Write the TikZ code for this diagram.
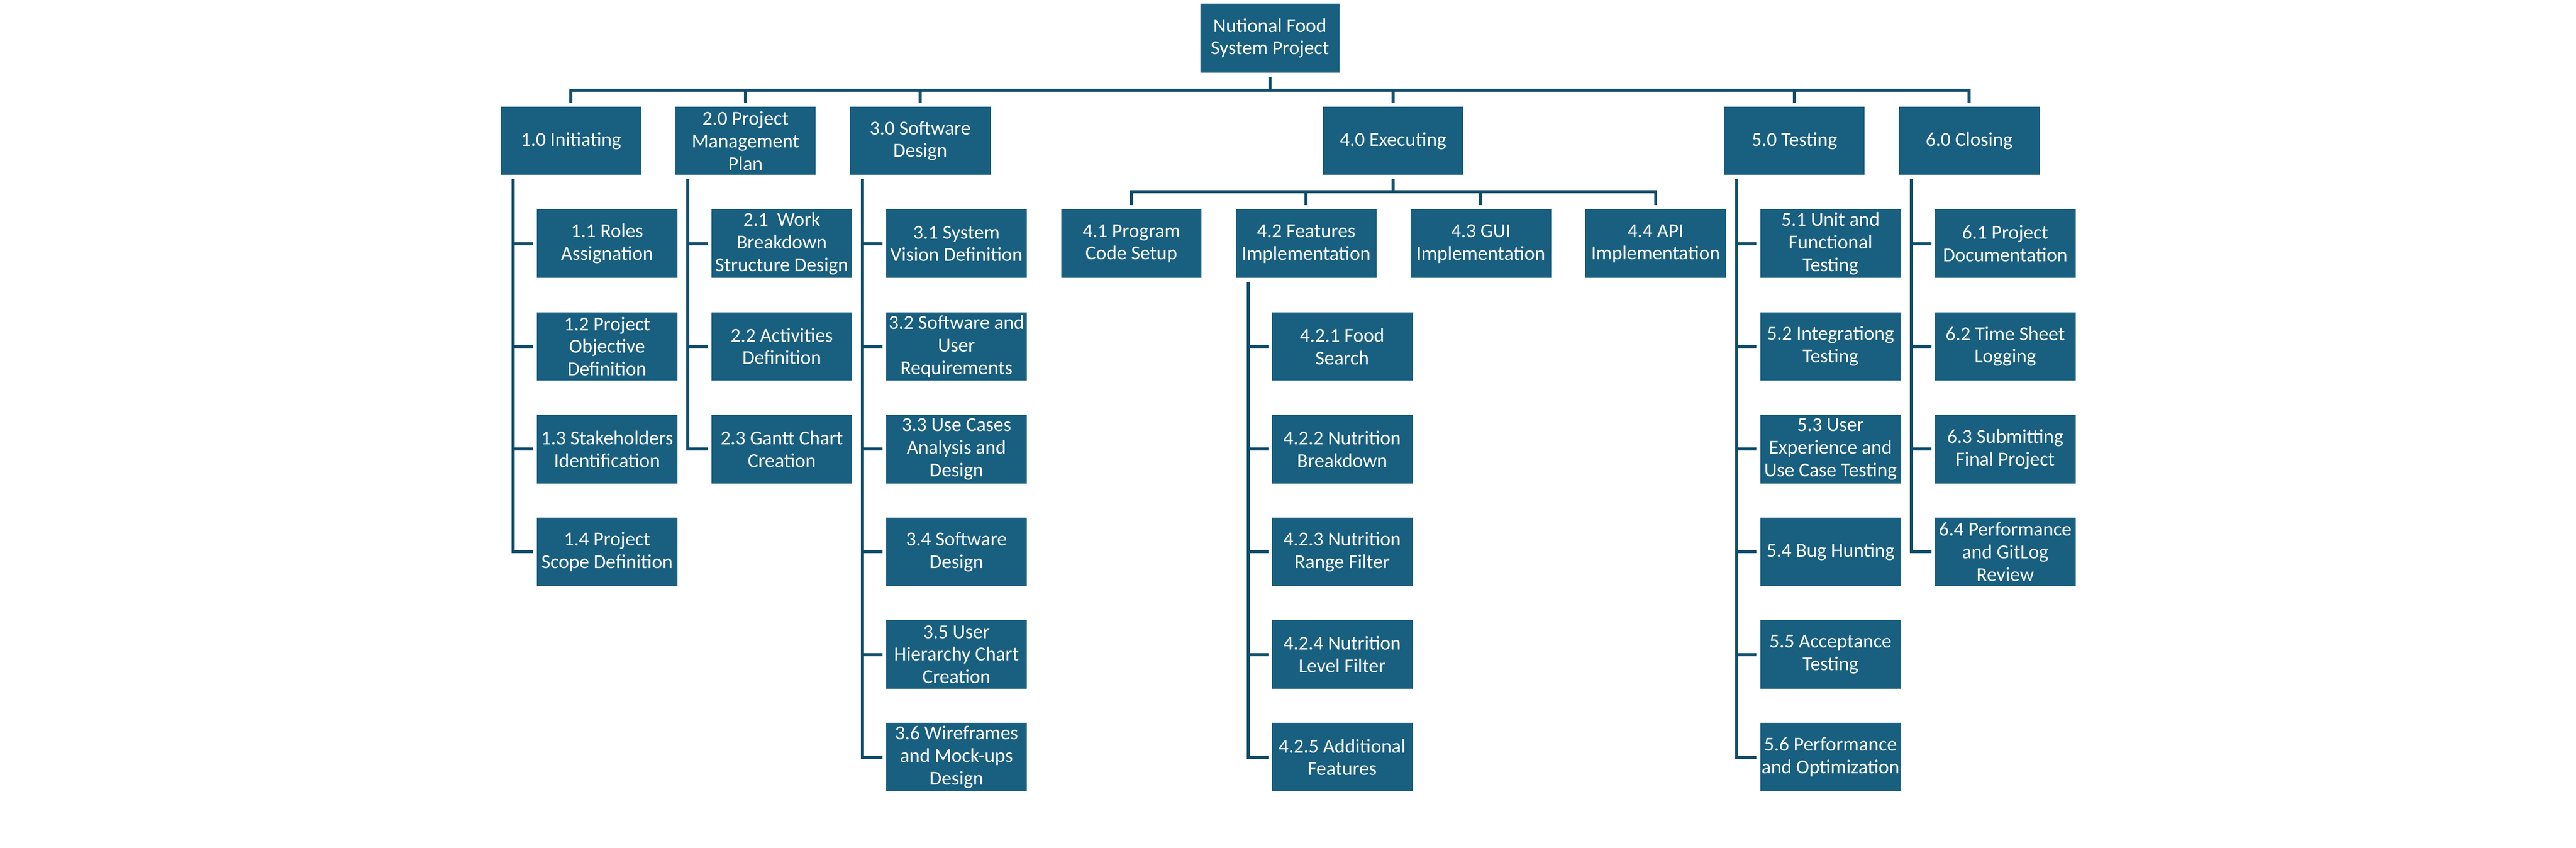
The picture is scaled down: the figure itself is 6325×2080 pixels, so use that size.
\documentclass[tikz,border=0pt]{standalone}
\usepackage{fontspec}
\setmainfont{Carlito}
\definecolor{boxc}{HTML}{185F80}
\definecolor{linec}{HTML}{0F4D6B}
\tikzset{
  wbox/.style={fill=boxc, text=white, minimum width=345pt, minimum height=168pt,
    inner sep=0pt, align=center, font=\fontsize{48.5}{55.5}\selectfont},
  conn/.style={draw=linec, line width=7.5pt, line join=miter}
}
\begin{document}
\begin{tikzpicture}[x=1pt,y=1pt]
\useasboundingbox (0,0) rectangle (6325,-2080);
% root
\node[wbox, minimum width=342pt, minimum height=169pt] (r) at (3118,-93.5) {Nutional Food\\System Project};
% level 1
\node[wbox, minimum height=167pt] (a) at (1402,-345.5) {1.0 Initiating};
\node[wbox, minimum height=167pt] (b) at (1830.5,-345.5) {2.0 Project\\Management\\Plan};
\node[wbox, minimum height=167pt] (c) at (2259.5,-345.5) {3.0 Software\\Design};
\node[wbox, minimum height=167pt] (d) at (3420.5,-345.5) {4.0 Executing};
\node[wbox, minimum height=167pt] (e) at (4406,-345.5) {5.0 Testing};
\node[wbox, minimum height=167pt] (f) at (4835,-345.5) {6.0 Closing};
% 1.x
\node[wbox] (a1) at (1490.5,-598) {1.1 Roles\\Assignation};
\node[wbox] (a2) at (1490.5,-850) {1.2 Project\\Objective\\Definition};
\node[wbox] (a3) at (1490.5,-1102) {1.3 Stakeholders\\Identification};
\node[wbox] (a4) at (1490.5,-1354) {1.4 Project\\Scope Definition};
% 2.x
\node[wbox] (b1) at (1919.5,-598) {2.1\ \ Work\\Breakdown\\Structure Design};
\node[wbox] (b2) at (1919.5,-850) {2.2 Activities\\Definition};
\node[wbox] (b3) at (1919.5,-1102) {2.3 Gantt Chart\\Creation};
% 3.x
\node[wbox] (c1) at (2348.5,-598) {3.1 System\\Vision Definition};
\node[wbox] (c2) at (2348.5,-850) {3.2 Software and\\User\\Requirements};
\node[wbox] (c3) at (2348.5,-1102) {3.3 Use Cases\\Analysis and\\Design};
\node[wbox] (c4) at (2348.5,-1354) {3.4 Software\\Design};
\node[wbox] (c5) at (2348.5,-1606) {3.5 User\\Hierarchy Chart\\Creation};
\node[wbox] (c6) at (2348.5,-1858) {3.6 Wireframes\\and Mock-ups\\Design};
% 4.x
\node[wbox] (d1) at (2778,-598) {4.1 Program\\Code Setup};
\node[wbox] (d2) at (3207,-598) {4.2 Features\\Implementation};
\node[wbox] (d3) at (3636,-598) {4.3 GUI\\Implementation};
\node[wbox] (d4) at (4065,-598) {4.4 API\\Implementation};
% 4.2.x
\node[wbox] (g1) at (3295.5,-850) {4.2.1 Food\\Search};
\node[wbox] (g2) at (3295.5,-1102) {4.2.2 Nutrition\\Breakdown};
\node[wbox] (g3) at (3295.5,-1354) {4.2.3 Nutrition\\Range Filter};
\node[wbox] (g4) at (3295.5,-1606) {4.2.4 Nutrition\\Level Filter};
\node[wbox] (g5) at (3295.5,-1858) {4.2.5 Additional\\Features};
% 5.x
\node[wbox] (e1) at (4494.5,-598) {5.1 Unit and\\Functional\\Testing};
\node[wbox] (e2) at (4494.5,-850) {5.2 Integrationg\\Testing};
\node[wbox] (e3) at (4494.5,-1102) {5.3 User\\Experience and\\Use Case Testing};
\node[wbox] (e4) at (4494.5,-1354) {5.4 Bug Hunting};
\node[wbox] (e5) at (4494.5,-1606) {5.5 Acceptance\\Testing};
\node[wbox] (e6) at (4494.5,-1858) {5.6 Performance\\and Optimization};
% 6.x
\node[wbox] (f1) at (4923.5,-598) {6.1 Project\\Documentation};
\node[wbox] (f2) at (4923.5,-850) {6.2 Time Sheet\\Logging};
\node[wbox] (f3) at (4923.5,-1102) {6.3 Submitting\\Final Project};
\node[wbox] (f4) at (4923.5,-1354) {6.4 Performance\\and GitLog\\Review};
% connectors root -> level 1
\foreach \c in {a,b,c,d,e,f}
  \draw[conn] ([yshift=-10pt]r.south) |- ([yshift=41pt]\c.north) -- ([yshift=10pt]\c.north);
% 4.0 -> 4.x
\foreach \c in {d1,d2,d3,d4}
  \draw[conn] ([yshift=-10pt]d.south) |- ([yshift=43pt]\c.north) -- ([yshift=10pt]\c.north);
% stems
\foreach \p/\kids in {a/{a1,a2,a3,a4}, b/{b1,b2,b3}, c/{c1,c2,c3,c4,c5,c6},
    d2/{g1,g2,g3,g4,g5}, e/{e1,e2,e3,e4,e5,e6}, f/{f1,f2,f3,f4}}
  \foreach \k in \kids
    \draw[conn] ([xshift=31pt,yshift=-10pt]\p.south west) |- ([xshift=-9pt]\k.west);
\end{tikzpicture}
\end{document}
